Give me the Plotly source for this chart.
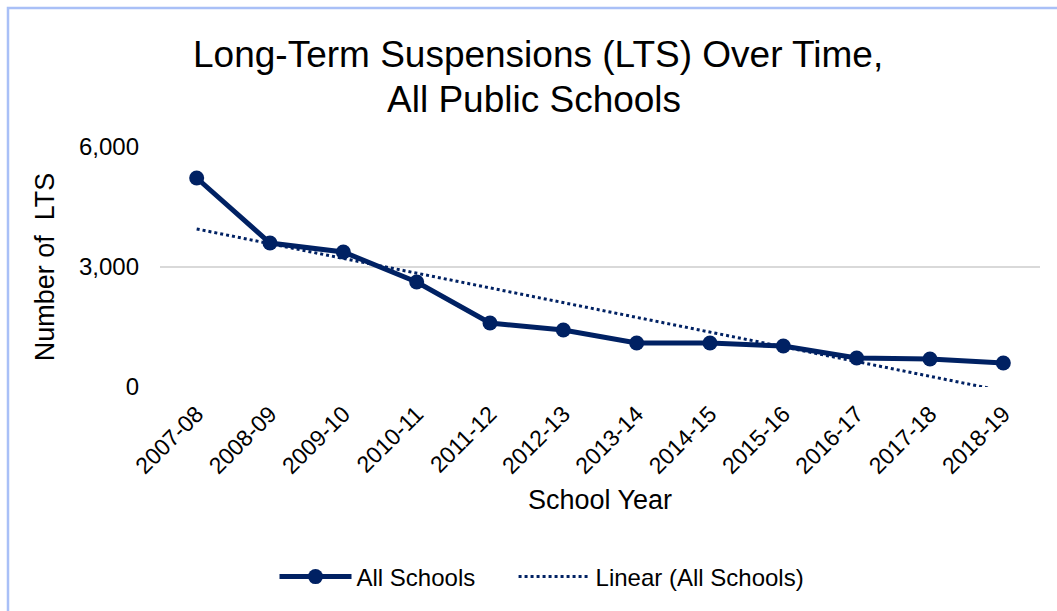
import numpy as np
import plotly.graph_objects as go

years = ["2007-08", "2008-09", "2009-10", "2010-11", "2011-12", "2012-13",
         "2013-14", "2014-15", "2015-16", "2016-17", "2017-18", "2018-19"]
lts = [5225, 3600, 3375, 2625, 1600, 1425, 1100, 1100, 1025, 725, 700, 600]
y_ticks = [0, 3000, 6000]
title_lines = ["Long-Term Suspensions (LTS) Over Time,", "All Public Schools"]

NAVY = "#002163"
FONT = "Liberation Sans, Arial, sans-serif"

# plot area in pixels (for placing the free text)
L, R, T, B = 160, 1040, 147, 387


def px_x(p):
    return (p - L) / (R - L)


def px_y(p):
    return (B - p) / (B - T)


# linear trendline (least squares, as in the spreadsheet trendline)
xi = np.arange(len(lts))
slope, intercept = np.polyfit(xi, lts, 1)
trend = list(slope * xi + intercept)

fig = go.Figure()
fig.add_trace(go.Scatter(
    x=years, y=trend, mode="lines", name="Linear (All Schools)",
    line=dict(color=NAVY, width=3, dash="dot"), legendrank=2,
))
fig.add_trace(go.Scatter(
    x=years, y=lts, mode="lines+markers",
    name="All Schools" + "\u00a0" * 5,
    line=dict(color=NAVY, width=5), marker=dict(color=NAVY, size=15),
    legendrank=1,
))

fig.update_layout(
    width=1057, height=611,
    margin=dict(l=L, r=1057 - R, t=T, b=611 - B),
    paper_bgcolor="white", plot_bgcolor="white",
    font=dict(family=FONT, color="#000000", size=24),
    showlegend=True,
    legend=dict(orientation="h", x=542 / 1057, xanchor="center", xref="container",
                y=1 - 577 / 611, yanchor="middle", yref="container",
                font=dict(size=24), itemwidth=72, traceorder="normal"),
    xaxis=dict(type="category", range=[-0.5, 11.5], showgrid=False,
               showline=False, zeroline=False, ticks="", tickangle=-45,
               ticklabelstandoff=8, tickfont=dict(size=23),
               title=dict(text="School Year", font=dict(size=27), standoff=12)),
    yaxis=dict(range=[0, 6000], tickvals=y_ticks, tickformat=",",
               showgrid=True, gridcolor="#d9d9d9", gridwidth=2,
               zeroline=False, showline=False, ticks="",
               ticklabelstandoff=20, tickfont=dict(size=24),
               title=dict(text="Number of  LTS", font=dict(size=27), standoff=16)),
    annotations=[
        dict(text=title_lines[0], xref="paper", yref="paper",
             x=px_x(538), y=px_y(54), xanchor="center", yanchor="middle",
             showarrow=False, font=dict(size=37, color="#000000")),
        dict(text=title_lines[1], xref="paper", yref="paper",
             x=px_x(534), y=px_y(99), xanchor="center", yanchor="middle",
             showarrow=False, font=dict(size=37, color="#000000")),
    ],
    shapes=[dict(type="rect", xref="paper", yref="paper",
                 x0=px_x(8), x1=px_x(1070), y0=px_y(640), y1=px_y(8),
                 line=dict(color="#a9c0f7", width=2.5), layer="below")],
)

fig.write_html("out.html")
